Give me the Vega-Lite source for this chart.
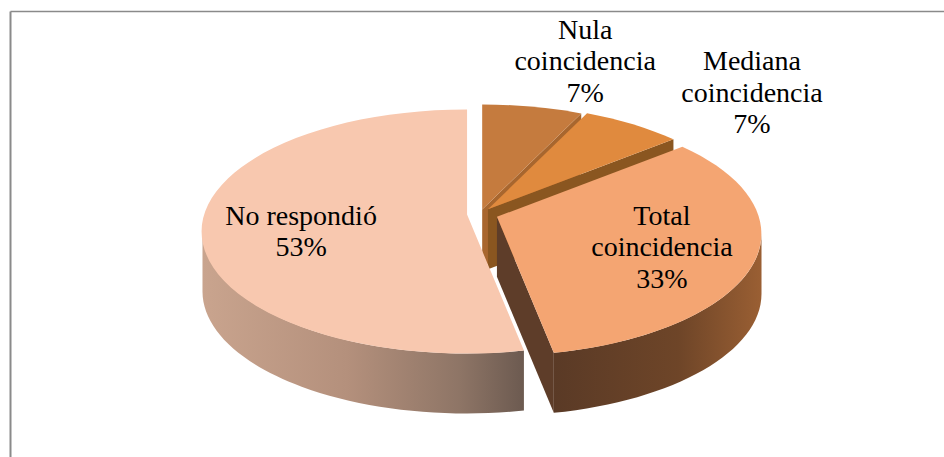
{
"$schema":"https://vega.github.io/schema/vega-lite/v6.json",
"width":934,"height":446,
"autosize":{"type":"none"},
"padding":{"left":10,"top":11,"right":0,"bottom":0},
"background":"white",
"config":{"view":{"stroke":null}},
"data":{"values":[
{"slice":"Nula coincidencia","label":"Nula\ncoincidencia","value":7,"order":1,"explode":10},
{"slice":"Mediana coincidencia","label":"Mediana\ncoincidencia","value":7,"order":2,"explode":13},
{"slice":"Total coincidencia","label":"Total\ncoincidencia","value":33,"order":3,"explode":18},
{"slice":"No respondió","label":"No respondió","value":53,"order":4,"explode":13}
]},
"transform":[
{"stack":"value","groupby":[],"sort":[{"field":"order","order":"ascending"}],"as":["a0","a1"]},
{"calculate":"datum.a0/100*2*PI","as":"t0"},
{"calculate":"datum.a1/100*2*PI","as":"t1"},
{"calculate":"(datum.t0+datum.t1)/2","as":"m"},
{"calculate":"datum.explode*sin(datum.m)","as":"ox"},
{"calculate":"-datum.explode*cos(datum.m)*0.46","as":"oy"},
{"calculate":"round(100*262*sin(datum.t0)/(1+0.139*cos(datum.t0)))/100","as":"x0"},
{"calculate":"round(-100*119.6*cos(datum.t0)/(1+0.139*cos(datum.t0)))/100","as":"y0"},
{"calculate":"round(100*262*sin(datum.t1)/(1+0.139*cos(datum.t1)))/100","as":"x1"},
{"calculate":"round(-100*119.6*cos(datum.t1)/(1+0.139*cos(datum.t1)))/100","as":"y1"},
{"calculate":"max(datum.t0,1.71)","as":"w0"},
{"calculate":"min(datum.t1,4.57)","as":"w1"},
{"calculate":"round(100*262*sin(datum.w0)/(1+0.139*cos(datum.w0)))/100","as":"wx0"},
{"calculate":"round(-100*119.6*cos(datum.w0)/(1+0.139*cos(datum.w0)))/100","as":"wy0"},
{"calculate":"round(100*262*sin(datum.w1)/(1+0.139*cos(datum.w1)))/100","as":"wx1"},
{"calculate":"round(-100*119.6*cos(datum.w1)/(1+0.139*cos(datum.w1)))/100","as":"wy1"},
{"calculate":"'M0,0L'+datum.x0+','+datum.y0+'A264.6,122,0,'+((datum.t1-datum.t0)>PI?1:0)+',1,'+datum.x1+','+datum.y1+'Z'","as":"topPath"},
{"calculate":"'M'+datum.wx0+','+datum.wy0+'A264.6,122,0,0,1,'+datum.wx1+','+datum.wy1+'L'+datum.wx1+','+(datum.wy1+60)+'A264.6,122,0,0,0,'+datum.wx0+','+(datum.wy0+60)+'Z'","as":"wallPath"},
{"calculate":"'M0,0L'+datum.x1+','+datum.y1+'L'+datum.x1+','+(datum.y1+60)+'L0,60Z'","as":"cutPath"},
{"calculate":"datum.label+'\\n'+datum.value+'%'","as":"text"}
],
"encoding":{
"x":{"field":"ox","type":"quantitative","scale":{"domain":[-470,464],"nice":false,"zero":false},"axis":{"orient":"top","title":null,"labels":false,"ticks":false,"grid":false,"domain":true,"domainColor":"#8a8a8a","domainWidth":1.6}},
"y":{"field":"oy","type":"quantitative","scale":{"domain":[-203,243],"reverse":true,"nice":false,"zero":false},"axis":{"orient":"left","title":null,"labels":false,"ticks":false,"grid":false,"domain":true,"domainColor":"#8a8a8a","domainWidth":2}}
},
"resolve":{"scale":{"fill":"independent"}},
"layer":[
{"mark":{"type":"point","filled":true,"size":4,"opacity":1,"strokeWidth":0},
 "encoding":{"shape":{"field":"cutPath","type":"nominal","scale":null,"legend":null},
 "fill":{"field":"slice","type":"nominal","legend":null,"scale":{"domain":["Nula coincidencia","Mediana coincidencia","Total coincidencia","No respondió"],"range":["#A8662E","#8A5620","#5E3D29","#8F7466"]}}}},
{"transform":[{"filter":"datum.slice=='No respondió'"}],
 "mark":{"type":"point","filled":true,"size":4,"opacity":1,"strokeWidth":0,"fill":{"gradient":"linear","x1":0,"y1":0,"x2":1,"y2":0,"stops":[{"offset":0,"color":"#C9A48E"},{"offset":0.45,"color":"#B4907C"},{"offset":0.8,"color":"#8E7566"},{"offset":1,"color":"#6C5A50"}]}},
 "encoding":{"shape":{"field":"wallPath","type":"nominal","scale":null,"legend":null}}},
{"transform":[{"filter":"datum.slice=='Total coincidencia'"}],
 "mark":{"type":"point","filled":true,"size":4,"opacity":1,"strokeWidth":0,"fill":{"gradient":"linear","x1":0,"y1":0,"x2":1,"y2":0,"stops":[{"offset":0,"color":"#5A3A26"},{"offset":0.6,"color":"#6E4528"},{"offset":1,"color":"#9A5F33"}]}},
 "encoding":{"shape":{"field":"wallPath","type":"nominal","scale":null,"legend":null}}},
{"mark":{"type":"point","filled":true,"size":4,"opacity":1,"strokeWidth":0},
 "encoding":{"shape":{"field":"topPath","type":"nominal","scale":null,"legend":null},
 "fill":{"field":"slice","type":"nominal","legend":null,"scale":{"domain":["Nula coincidencia","Mediana coincidencia","Total coincidencia","No respondió"],"range":["#C57B3E","#E08A3E","#F4A572","#F8C8AF"]}}}},
{"transform":[{"filter":"datum.order==1"}],"mark":{"type":"text","font":"Liberation Serif","fontSize":28,"lineBreak":"\n","lineHeight":31.5,"color":"#000","align":"center","baseline":"middle","dx":103,"dy":-179},"encoding":{"text":{"field":"text"}}},
{"transform":[{"filter":"datum.order==2"}],"mark":{"type":"text","font":"Liberation Serif","fontSize":28,"lineBreak":"\n","lineHeight":31.5,"color":"#000","align":"center","baseline":"middle","dx":264,"dy":-147},"encoding":{"text":{"field":"text"}}},
{"transform":[{"filter":"datum.order==3"}],"mark":{"type":"text","font":"Liberation Serif","fontSize":28,"lineBreak":"\n","lineHeight":31.5,"color":"#000","align":"center","baseline":"middle","dx":165,"dy":0},"encoding":{"text":{"field":"text"}}},
{"transform":[{"filter":"datum.order==4"}],"mark":{"type":"text","font":"Liberation Serif","fontSize":28,"lineBreak":"\n","lineHeight":31.5,"color":"#000","align":"center","baseline":"middle","dx":-166,"dy":2},"encoding":{"text":{"field":"text"}}}
]
}
